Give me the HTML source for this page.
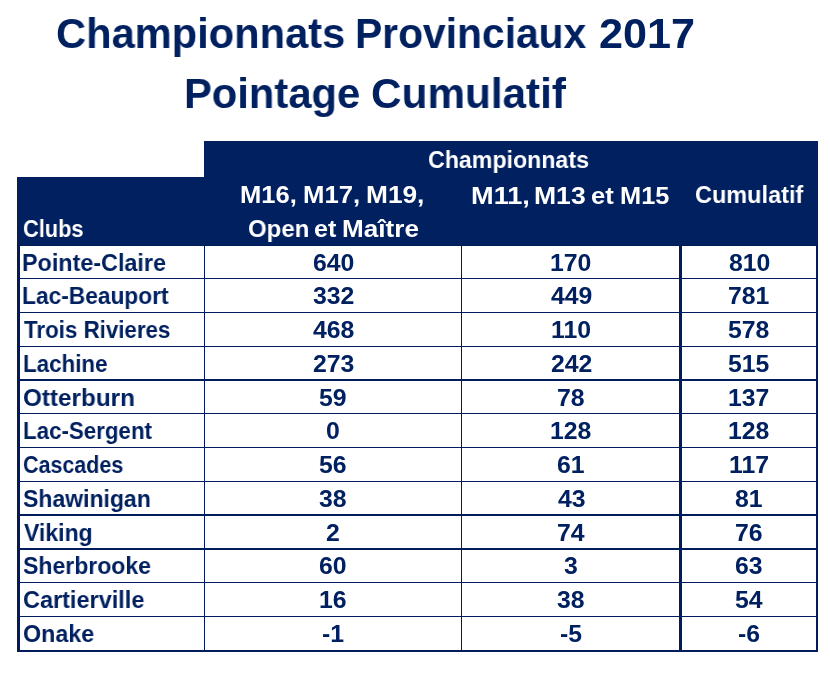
<!DOCTYPE html>
<html><head><meta charset="utf-8"><title>Championnats Provinciaux 2017</title>
<style>
html,body{margin:0;padding:0;background:#fff;}
body{width:830px;height:676px;position:relative;overflow:hidden;font-family:"Liberation Sans",sans-serif;font-weight:bold;}
.t{position:absolute;white-space:nowrap;line-height:1;transform-origin:0 0;-webkit-font-smoothing:antialiased;will-change:transform;}
.r{position:absolute;}
</style></head><body>

<div class="table">
<div class="r" style="left:204px;top:141px;width:614px;height:36px;background:#002060"></div>
<div class="r" style="left:17px;top:177px;width:801px;height:69px;background:#002060"></div>
<div class="r" style="left:17px;top:245px;width:801px;height:1px;background:#001a58"></div>
<div class="r" style="left:17px;top:278px;width:801px;height:1px;background:#001c5c"></div>
<div class="r" style="left:17px;top:312px;width:801px;height:1px;background:#001c5c"></div>
<div class="r" style="left:17px;top:346px;width:801px;height:1px;background:#001c5c"></div>
<div class="r" style="left:17px;top:379px;width:801px;height:2px;background:#001c5c"></div>
<div class="r" style="left:17px;top:413px;width:801px;height:1px;background:#001c5c"></div>
<div class="r" style="left:17px;top:447px;width:801px;height:1px;background:#001c5c"></div>
<div class="r" style="left:17px;top:481px;width:801px;height:1px;background:#001c5c"></div>
<div class="r" style="left:17px;top:514px;width:801px;height:2px;background:#001c5c"></div>
<div class="r" style="left:17px;top:548px;width:801px;height:2px;background:#001c5c"></div>
<div class="r" style="left:17px;top:582px;width:801px;height:1px;background:#001c5c"></div>
<div class="r" style="left:17px;top:616px;width:801px;height:1px;background:#001c5c"></div>
<div class="r" style="left:17px;top:650px;width:801px;height:2px;background:#001c5c"></div>
<div class="r" style="left:17px;top:246px;width:3px;height:404px;background:#001c5c"></div>
<div class="r" style="left:204px;top:246px;width:1px;height:404px;background:#001c5c"></div>
<div class="r" style="left:461px;top:246px;width:1px;height:404px;background:#001c5c"></div>
<div class="r" style="left:679px;top:246px;width:3px;height:404px;background:#001c5c"></div>
<div class="r" style="left:816px;top:246px;width:2px;height:404px;background:#001c5c"></div>
</div>
<h1 style="margin:0;font-size:inherit">
<div class="t" style="left:55.54px;top:13.0px;font-size:42.5px;color:#002060;transform:scaleX(0.9801);">Championnats</div>
<div class="t" style="left:355.42px;top:13.0px;font-size:42.5px;color:#002060;transform:scaleX(0.9599);">Provinciaux</div>
<div class="t" style="left:598.58px;top:13.0px;font-size:42.5px;color:#002060;transform:scaleX(1.0152);">2017</div>
<div class="t" style="left:184.35px;top:72.8px;font-size:42.5px;color:#002060;transform:scaleX(0.9823);">Pointage</div>
<div class="t" style="left:371.01px;top:72.8px;font-size:42.5px;color:#002060;transform:scaleX(0.9948);">Cumulatif</div>
</h1>
<div class="t" style="left:428.17px;top:147.8px;font-size:24.8px;color:#ffffff;transform:scaleX(0.9347);">Championnats</div>
<div class="t" style="left:240.14px;top:182.6px;font-size:24.8px;color:#ffffff;transform:scaleX(1.0308);">M16,</div>
<div class="t" style="left:303.32px;top:182.6px;font-size:24.8px;color:#ffffff;transform:scaleX(1.0385);">M17,</div>
<div class="t" style="left:366.48px;top:182.6px;font-size:24.8px;color:#ffffff;transform:scaleX(1.0596);">M19,</div>
<div class="t" style="left:470.81px;top:183.6px;font-size:24.8px;color:#ffffff;transform:scaleX(1.096);">M11,</div>
<div class="t" style="left:534.36px;top:183.6px;font-size:24.8px;color:#ffffff;transform:scaleX(1.0711);">M13</div>
<div class="t" style="left:590.87px;top:183.6px;font-size:24.8px;color:#ffffff;transform:scaleX(1.0333);">et</div>
<div class="t" style="left:620.25px;top:183.6px;font-size:24.8px;color:#ffffff;transform:scaleX(1.0239);">M15</div>
<div class="t" style="left:695.45px;top:183.3px;font-size:24.8px;color:#ffffff;transform:scaleX(0.9469);">Cumulatif</div>
<div class="t" style="left:22.62px;top:216.6px;font-size:24.8px;color:#ffffff;transform:scaleX(0.8791);">Clubs</div>
<div class="t" style="left:247.93px;top:216.6px;font-size:24.8px;color:#ffffff;transform:scaleX(0.9672);">Open</div>
<div class="t" style="left:313.79px;top:216.6px;font-size:24.8px;color:#ffffff;transform:scaleX(1.0143);">et</div>
<div class="t" style="left:341.59px;top:216.6px;font-size:24.8px;color:#ffffff;transform:scaleX(1.0529);">Maître</div>
<div class="t" style="left:22.42px;top:250.7px;font-size:24.8px;color:#002060;transform:scaleX(0.9413);">Pointe-Claire</div>
<div class="t" style="left:312.9px;top:250.7px;font-size:24.8px;color:#002060;">640</div>
<div class="t" style="left:550.3px;top:250.7px;font-size:24.8px;color:#002060;">170</div>
<div class="t" style="left:728.8px;top:250.7px;font-size:24.8px;color:#002060;">810</div>
<div class="t" style="left:22.47px;top:284.43px;font-size:24.8px;color:#002060;transform:scaleX(0.9171);">Lac-Beauport</div>
<div class="t" style="left:312.9px;top:284.43px;font-size:24.8px;color:#002060;">332</div>
<div class="t" style="left:551.3px;top:284.43px;font-size:24.8px;color:#002060;">449</div>
<div class="t" style="left:728.3px;top:284.43px;font-size:24.8px;color:#002060;">781</div>
<div class="t" style="left:24.3px;top:318.16px;font-size:24.8px;color:#002060;transform:scaleX(0.9);">Trois Rivieres</div>
<div class="t" style="left:312.9px;top:318.16px;font-size:24.8px;color:#002060;">468</div>
<div class="t" style="left:550.8px;top:318.16px;font-size:24.8px;color:#002060;">110</div>
<div class="t" style="left:728.3px;top:318.16px;font-size:24.8px;color:#002060;">578</div>
<div class="t" style="left:22.5px;top:351.89px;font-size:24.8px;color:#002060;transform:scaleX(0.9011);">Lachine</div>
<div class="t" style="left:312.9px;top:351.89px;font-size:24.8px;color:#002060;">273</div>
<div class="t" style="left:550.8px;top:351.89px;font-size:24.8px;color:#002060;">242</div>
<div class="t" style="left:728.3px;top:351.89px;font-size:24.8px;color:#002060;">515</div>
<div class="t" style="left:23.32px;top:385.62px;font-size:24.8px;color:#002060;transform:scaleX(0.9786);">Otterburn</div>
<div class="t" style="left:319.4px;top:385.62px;font-size:24.8px;color:#002060;">59</div>
<div class="t" style="left:557.3px;top:385.62px;font-size:24.8px;color:#002060;">78</div>
<div class="t" style="left:728.3px;top:385.62px;font-size:24.8px;color:#002060;">137</div>
<div class="t" style="left:22.5px;top:419.35px;font-size:24.8px;color:#002060;transform:scaleX(0.9);">Lac-Sergent</div>
<div class="t" style="left:326.4px;top:419.35px;font-size:24.8px;color:#002060;">0</div>
<div class="t" style="left:549.8px;top:419.35px;font-size:24.8px;color:#002060;">128</div>
<div class="t" style="left:727.8px;top:419.35px;font-size:24.8px;color:#002060;">128</div>
<div class="t" style="left:23.43px;top:453.08px;font-size:24.8px;color:#002060;transform:scaleX(0.8658);">Cascades</div>
<div class="t" style="left:319.4px;top:453.08px;font-size:24.8px;color:#002060;">56</div>
<div class="t" style="left:557.3px;top:453.08px;font-size:24.8px;color:#002060;">61</div>
<div class="t" style="left:728.8px;top:453.08px;font-size:24.8px;color:#002060;">117</div>
<div class="t" style="left:23.37px;top:486.81px;font-size:24.8px;color:#002060;transform:scaleX(0.9274);">Shawinigan</div>
<div class="t" style="left:319.4px;top:486.81px;font-size:24.8px;color:#002060;">38</div>
<div class="t" style="left:557.8px;top:486.81px;font-size:24.8px;color:#002060;">43</div>
<div class="t" style="left:735.3px;top:486.81px;font-size:24.8px;color:#002060;">81</div>
<div class="t" style="left:24.3px;top:520.54px;font-size:24.8px;color:#002060;transform:scaleX(0.9278);">Viking</div>
<div class="t" style="left:326.4px;top:520.54px;font-size:24.8px;color:#002060;">2</div>
<div class="t" style="left:557.3px;top:520.54px;font-size:24.8px;color:#002060;">74</div>
<div class="t" style="left:735.3px;top:520.54px;font-size:24.8px;color:#002060;">76</div>
<div class="t" style="left:23.37px;top:554.27px;font-size:24.8px;color:#002060;transform:scaleX(0.9287);">Sherbrooke</div>
<div class="t" style="left:319.4px;top:554.27px;font-size:24.8px;color:#002060;">60</div>
<div class="t" style="left:564.3px;top:554.27px;font-size:24.8px;color:#002060;">3</div>
<div class="t" style="left:735.3px;top:554.27px;font-size:24.8px;color:#002060;">63</div>
<div class="t" style="left:23.35px;top:588.0px;font-size:24.8px;color:#002060;transform:scaleX(0.9468);">Cartierville</div>
<div class="t" style="left:318.9px;top:588.0px;font-size:24.8px;color:#002060;">16</div>
<div class="t" style="left:557.3px;top:588.0px;font-size:24.8px;color:#002060;">38</div>
<div class="t" style="left:735.3px;top:588.0px;font-size:24.8px;color:#002060;">54</div>
<div class="t" style="left:23.36px;top:621.73px;font-size:24.8px;color:#002060;transform:scaleX(0.9392);">Onake</div>
<div class="t" style="left:322.4px;top:621.73px;font-size:24.8px;color:#002060;">-1</div>
<div class="t" style="left:560.3px;top:621.73px;font-size:24.8px;color:#002060;">-5</div>
<div class="t" style="left:738.3px;top:621.73px;font-size:24.8px;color:#002060;">-6</div>
</body></html>
